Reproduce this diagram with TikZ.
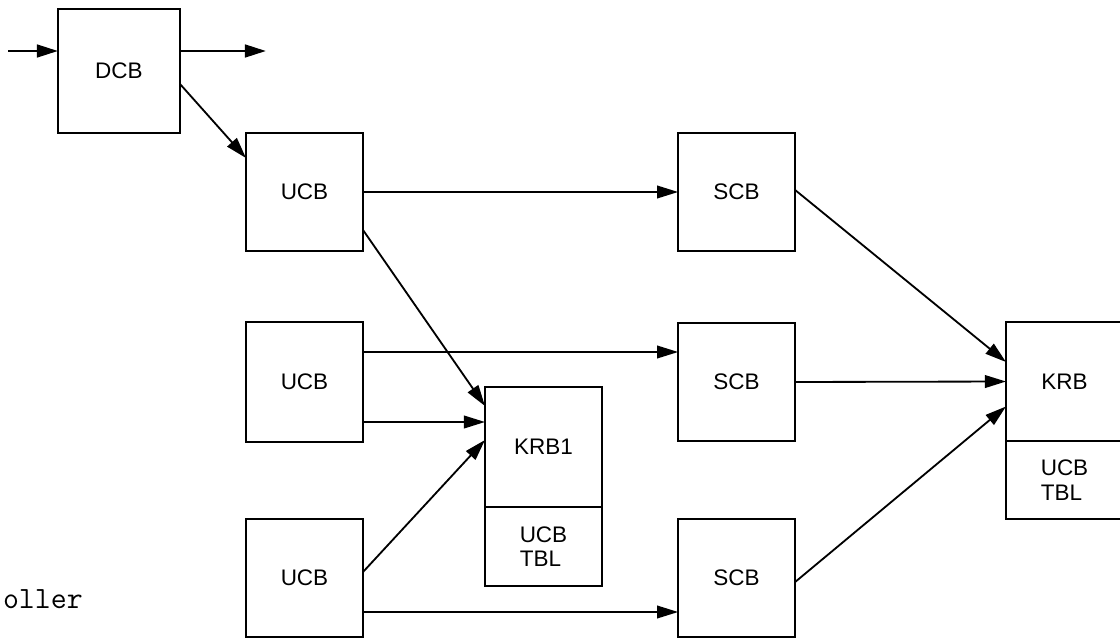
\documentclass[tikz,border=0pt]{standalone}
\usepackage{fontspec}
\setmainfont{Liberation Sans}
\usetikzlibrary{arrows.meta, positioning, calc}
\tikzset{
    cblock/.style={rectangle, draw, line width=1.2pt, minimum width=2.925cm, minimum height=2.95cm, inner sep=0pt, outer sep=0pt, align=left, font=\fontsize{16}{17.5}\selectfont},
    cflow/.style={-{Triangle[length=15pt, width=9pt]}, line width=1.3pt},
    cflowbold/.style={cflow, line width=1.9pt},
    ctext/.style={font=\ttfamily\fontsize{22}{22}\selectfont, inner sep=0pt}
}

\begin{document}
\begin{tikzpicture}[x=0.025cm, y=-0.025cm]
\useasboundingbox (0,0) rectangle (1120,638);

\node[cblock, minimum width=3.05cm, minimum height=3.1cm] (dcb) at (119,71) {DCB};

\node[cblock] (ucb1) at (304.5,192) {UCB};
\node[cblock, minimum height=3cm] (ucb2) at (304.5,382) {UCB};
\node[cblock] (ucb3) at (304.5,578) {UCB};

\node[cblock, right=7.875cm of ucb1] (scb1) {SCB};
\node[cblock, right=7.875cm of ucb2] (scb2) {SCB};
\node[cblock, right=7.875cm of ucb3] (scb3) {SCB};

\node[cblock, minimum height=3cm] (krb1) at (543.5,447) {KRB1};
\node[cblock, minimum height=1.975cm, below=0pt of krb1] (krb1tbl) {UCB\\TBL};

\node[cblock, minimum height=2.975cm] (krb) at (1064.5,381.5) {KRB};
\node[cblock, minimum height=1.95cm, below=0pt of krb] (krbtbl) {UCB\\TBL};

\node[ctext, anchor=base east] (ctrl) at (83,608) {oller};

\coordinate (dcbin) at (8,51);
\coordinate (dcbout) at (266,51);

\draw[cflowbold] (dcbin) -- (dcbin -| dcb.west);
\draw[cflowbold] (dcbin -| dcb.east) -- (dcbout);
\draw[cflow] ($(dcb.east)+(0,13)$) -- ($(ucb1.north west)+(0,25)$);

\draw[cflow] (ucb1.east) -- (scb1.west);
\draw[cflow] ($(ucb1.east)+(0,38)$) -- ($(krb1.north west)+(0,19)$);
\draw[cflow] ($(ucb2.east)+(0,-30)$) -- ($(scb2.west)+(0,-30)$);
\draw[cflow] ($(ucb2.east)+(0,40)$) -- ($(krb1.west)+(0,-25)$);
\draw[cflow] ($(ucb3.east)+(0,-6)$) -- ($(krb1.west)+(0,-7)$);
\draw[cflow] ($(ucb3.east)+(0,34)$) -- ($(scb3.west)+(0,34)$);

\draw[cflow] ($(scb1.east)+(0,-2)$) -- ($(krb.north west)+(0,40)$);
\draw[cflow] (scb2.east) -- (krb.west);
\draw[cflow] ($(scb3.east)+(0,4)$) -- ($(krb.west)+(0,25)$);

\end{tikzpicture}
\end{document}
